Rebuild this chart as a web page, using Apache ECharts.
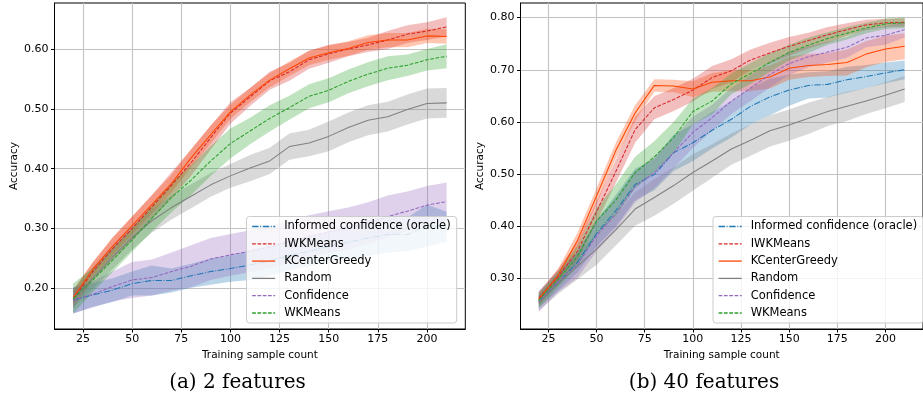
<!DOCTYPE html>
<html><head><meta charset="utf-8">
<script src="https://cdn.jsdelivr.net/npm/echarts@6/dist/echarts.min.js"></script>
<style>html,body{margin:0;padding:0;background:#fff}#c{width:923px;height:402px}</style>
</head><body><div id="c"></div>
<script>
// x values (training sample count)
const xs = [20,30,40,50,60,70,80,90,100,110,120,130,140,150,160,170,180,190,200,210];
const xTicks = [25,50,75,100,125,150,175,200];
const yTicksA = [0.2,0.3,0.4,0.5,0.6];
const yTicksB = [0.3,0.4,0.5,0.6,0.7,0.8];
const names = ['Informed confidence (oracle)','IWKMeans','KCenterGreedy','Random','Confidence','WKMeans'];

// (a) 2 features: means
const infA  = [0.180,0.189,0.197,0.208,0.213,0.213,0.221,0.228,0.233,0.239,0.246,0.255,0.262,0.270,0.277,0.284,0.290,0.290,0.305,0.303];
const iwkA  = [0.182,0.228,0.266,0.300,0.336,0.372,0.410,0.452,0.493,0.520,0.547,0.562,0.582,0.592,0.600,0.607,0.615,0.625,0.630,0.637];
const kcgA  = [0.185,0.232,0.270,0.305,0.340,0.375,0.418,0.457,0.495,0.523,0.548,0.567,0.585,0.594,0.601,0.611,0.615,0.615,0.622,0.621];
const randA = [0.182,0.217,0.252,0.285,0.313,0.335,0.354,0.373,0.388,0.401,0.413,0.437,0.443,0.454,0.469,0.481,0.487,0.499,0.509,0.510];
const confA = [0.180,0.190,0.203,0.214,0.218,0.228,0.237,0.249,0.256,0.262,0.269,0.278,0.287,0.294,0.300,0.309,0.320,0.329,0.339,0.345];
const wkA   = [0.183,0.214,0.247,0.281,0.317,0.352,0.381,0.413,0.442,0.463,0.484,0.502,0.521,0.531,0.546,0.558,0.568,0.573,0.582,0.588];
// (a) band half-widths
const infErrA  = [0.022,0.020,0.020,0.020,0.025,0.020,0.020,0.022,0.022,0.025,0.025,0.025,0.025,0.025,0.028,0.030,0.030,0.028,0.035,0.025];
const iwkErrA  = [0.015,0.015,0.018,0.020,0.020,0.022,0.022,0.020,0.018,0.015,0.015,0.015,0.015,0.015,0.012,0.012,0.015,0.015,0.015,0.016];
const kcgErrA  = [0.012,0.012,0.015,0.015,0.015,0.015,0.015,0.015,0.012,0.012,0.012,0.012,0.012,0.012,0.012,0.012,0.012,0.012,0.012,0.012];
const randErrA = [0.015,0.018,0.020,0.020,0.020,0.020,0.020,0.020,0.020,0.022,0.022,0.022,0.022,0.025,0.025,0.025,0.025,0.025,0.025,0.025];
const confErrA = [0.022,0.022,0.025,0.030,0.030,0.032,0.035,0.035,0.035,0.035,0.035,0.035,0.035,0.035,0.035,0.035,0.035,0.033,0.032,0.032];
const wkErrA   = [0.025,0.020,0.020,0.020,0.022,0.025,0.025,0.025,0.025,0.022,0.022,0.020,0.020,0.020,0.020,0.020,0.020,0.018,0.018,0.020];

// (b) 40 features: means
const infB  = [0.256,0.291,0.331,0.386,0.430,0.480,0.499,0.541,0.560,0.584,0.605,0.630,0.648,0.661,0.670,0.672,0.681,0.687,0.694,0.700];
const iwkB  = [0.262,0.303,0.352,0.428,0.505,0.585,0.627,0.643,0.661,0.685,0.698,0.719,0.732,0.745,0.756,0.767,0.777,0.786,0.790,0.791];
const kcgB  = [0.260,0.306,0.372,0.458,0.545,0.617,0.670,0.669,0.663,0.676,0.679,0.679,0.686,0.703,0.708,0.710,0.714,0.730,0.740,0.745];
const randB = [0.253,0.290,0.323,0.356,0.393,0.433,0.455,0.478,0.503,0.525,0.548,0.565,0.583,0.594,0.607,0.620,0.630,0.640,0.651,0.663];
const confB = [0.256,0.294,0.326,0.382,0.424,0.476,0.503,0.541,0.580,0.608,0.640,0.665,0.691,0.712,0.725,0.734,0.743,0.761,0.766,0.777];
const wkB   = [0.258,0.298,0.342,0.410,0.450,0.503,0.533,0.570,0.620,0.640,0.673,0.693,0.714,0.733,0.747,0.760,0.770,0.780,0.788,0.790];
// (b) band half-widths
const infErrB  = [0.012,0.015,0.020,0.025,0.030,0.030,0.030,0.035,0.035,0.035,0.035,0.035,0.035,0.030,0.025,0.025,0.025,0.022,0.020,0.018];
const iwkErrB  = [0.012,0.015,0.018,0.020,0.022,0.025,0.022,0.022,0.022,0.022,0.022,0.020,0.020,0.018,0.015,0.015,0.012,0.010,0.008,0.008];
const kcgErrB  = [0.012,0.012,0.015,0.015,0.015,0.015,0.012,0.012,0.015,0.018,0.020,0.020,0.022,0.022,0.022,0.022,0.025,0.025,0.025,0.025];
const randErrB = [0.015,0.020,0.025,0.030,0.030,0.032,0.035,0.035,0.035,0.032,0.030,0.030,0.030,0.030,0.030,0.028,0.028,0.025,0.025,0.025];
const confErrB = [0.020,0.020,0.025,0.030,0.030,0.030,0.030,0.030,0.030,0.025,0.025,0.025,0.025,0.022,0.020,0.020,0.020,0.018,0.018,0.015];
const wkErrB   = [0.015,0.015,0.020,0.025,0.030,0.030,0.030,0.030,0.025,0.025,0.020,0.020,0.018,0.015,0.015,0.012,0.012,0.010,0.010,0.010];

const colors = ['#1f77b4','#d62728','#ff4500','#808080','#9467bd','#2ca02c'];
const dashes = [[6.4,1.6,1,1.6],[3.7,1.6],'solid','solid',[3.7,1.6],[3.7,1.6]];

const panels = [
  {means:[infA,iwkA,kcgA,randA,confA,wkA], errs:[infErrA,iwkErrA,kcgErrA,randErrA,confErrA,wkErrA]},
  {means:[infB,iwkB,kcgB,randB,confB,wkB], errs:[infErrB,iwkErrB,kcgErrB,randErrB,confErrB,wkErrB]}
];

const FONT = 'DejaVu Sans';
const series = [];
panels.forEach((p, g) => {
  p.means.forEach((m, k) => {
    const e = p.errs[k];
    series.push({
      type: 'custom', name: 'band' + g + k, xAxisIndex: g, yAxisIndex: g, silent: true, z: 1,
      data: [[xs[0], m[0]]],
      renderItem: function (params, api) {
        const pts = [];
        for (let i = 0; i < xs.length; i++) pts.push(api.coord([xs[i], m[i] + e[i]]));
        for (let i = xs.length - 1; i >= 0; i--) pts.push(api.coord([xs[i], m[i] - e[i]]));
        return {type: 'polygon', shape: {points: pts}, style: {fill: colors[k], opacity: 0.3}};
      }
    });
  });
});
panels.forEach((p, g) => {
  p.means.forEach((m, k) => {
    series.push({
      type: 'line', name: names[k], xAxisIndex: g, yAxisIndex: g, z: 3,
      data: xs.map((x, i) => [x, m[i]]),
      symbol: 'none', showSymbol: false,
      lineStyle: {color: colors[k], width: 1.05, type: dashes[k]},
      itemStyle: {color: colors[k]}
    });
  });
});

function xAxis(g) {
  return {
    type: 'value', gridIndex: g, min: 10.5, max: 219.5,
    name: 'Training sample count', nameLocation: 'middle', nameGap: 19,
    nameTextStyle: {fontFamily: FONT, fontSize: 10.5, color: '#000'},
    axisLine: {show: true, lineStyle: {color: '#000', width: 1}},
    axisTick: {show: true, inside: false, length: 3.5, lineStyle: {color: '#000'}, customValues: xTicks},
    axisLabel: {customValues: xTicks, fontFamily: FONT, fontSize: 11, color: '#000', margin: 5},
    splitLine: {show: true, lineStyle: {color: '#c2c2c2', width: 1.1}}
  };
}
function yAxis(g, mn, mx, ticks) {
  return {
    type: 'value', gridIndex: g, min: mn, max: mx,
    name: 'Accuracy', nameLocation: 'middle', nameGap: 34,
    nameTextStyle: {fontFamily: FONT, fontSize: 10.5, color: '#000'},
    axisLine: {show: true, lineStyle: {color: '#000', width: 1}},
    axisTick: {show: true, inside: false, length: 3.5, lineStyle: {color: '#000'}, customValues: ticks},
    axisLabel: {customValues: ticks, fontFamily: FONT, fontSize: 11, color: '#000', margin: 6,
      formatter: v => v.toFixed(2)},
    splitLine: {show: true, lineStyle: {color: '#c2c2c2', width: 1.1}}
  };
}
function legend(left) {
  return {
    data: names, orient: 'vertical', left: left, top: 216.5,
    itemWidth: 23, itemHeight: 10, itemGap: 3.3,
    padding: [3, 6, 3, 5],
    backgroundColor: 'rgba(255,255,255,0.8)', borderColor: '#cccccc', borderWidth: 1, borderRadius: 3,
    itemStyle: {opacity: 0, borderWidth: 0},
    lineStyle: {width: 1.3},
    textStyle: {fontFamily: FONT, fontSize: 11.5, color: '#000', lineHeight: 14, padding: [0, 0, 0, 4]},
    selectedMode: false
  };
}

const chart = echarts.init(document.getElementById('c'), null, {renderer: 'canvas'});
chart.setOption({
  animation: false,
  backgroundColor: '#fff',
  grid: [
    {left: 54.5, top: 3, width: 410.8, height: 326, show: true, borderColor: '#000', borderWidth: 1, backgroundColor: 'transparent'},
    {left: 520.5, top: 3, width: 410.8, height: 326, show: true, borderColor: '#000', borderWidth: 1, backgroundColor: 'transparent'}
  ],
  xAxis: [xAxis(0), xAxis(1)],
  yAxis: [yAxis(0, 0.132, 0.677, yTicksA), yAxis(1, 0.203, 0.828, yTicksB)],
  legend: [legend(246.5), legend(713)],
  graphic: [
    {type: 'text', x: 237.5, y: 383, style: {text: '(a) 2 features', font: '20px "DejaVu Serif"', fill: '#000', align: 'center', verticalAlign: 'middle'}},
    {type: 'text', x: 704, y: 383, style: {text: '(b) 40 features', font: '20px "DejaVu Serif"', fill: '#000', align: 'center', verticalAlign: 'middle'}}
  ],
  series: series
});
</script>
</body></html>
